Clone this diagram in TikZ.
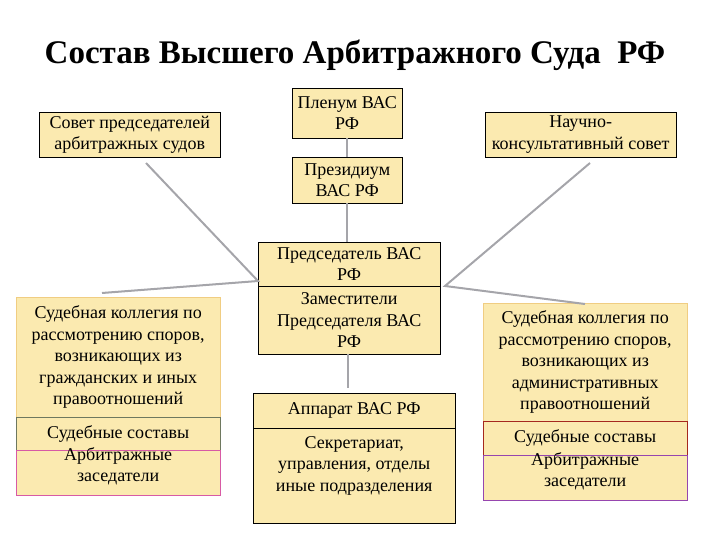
\documentclass[tikz,border=0pt]{standalone}
\usepackage{fontspec}
\setmainfont{Liberation Serif}

\definecolor{boxfill}{RGB}{251,234,176}
\definecolor{linkgray}{RGB}{165,165,170}
\definecolor{edgeorange}{RGB}{240,205,130}
\definecolor{edgeolive}{RGB}{110,120,95}
\definecolor{edgepink}{RGB}{215,90,165}
\definecolor{edgered}{RGB}{165,40,30}
\definecolor{edgepurple}{RGB}{150,70,175}

\tikzset{
  box/.style={draw=black, fill=boxfill, align=center, inner sep=0pt,
    anchor=north west, font=\fontsize{18}{21.5}\selectfont},
  sized/.style 2 args={minimum width=#1pt, minimum height=#2pt},
  lowtext/.style={text height=22pt},
  link/.style={draw=linkgray, line width=2pt}
}

\begin{document}
\begin{tikzpicture}[x=1pt,y=-1pt]
  \useasboundingbox (0,0) rectangle (720,540);

  % title
  \node[font=\fontsize{33}{40}\selectfont\bfseries] (title) at (355,55)
    {Состав Высшего Арбитражного Суда\ \ РФ};

  % top row
  \node[box, sized={181}{45}] (sovet) at (39,112)
    {Совет председателей\\арбитражных судов};
  \node[box, sized={110}{50}] (plenum) at (292,88) {Пленум ВАС\\РФ};
  \node[box, sized={110}{46}] (presid) at (292,157) {Президиум\\ВАС РФ};
  \node[box, sized={191}{45}] (nauch) at (485,112)
    {Научно-\\консультативный совет};

  % centre
  \node[box, sized={182}{44}] (chair) at (258,242) {Председатель ВАС\\РФ};
  \node[box, sized={182}{68}] (deputy) at (258,286)
    {Заместители\\Председателя ВАС\\РФ};
  \node[box, sized={202}{35}] (appar) at (253,393) {Аппарат ВАС РФ};
  \node[box, sized={202}{95}] (units) at (253,428)
    {Секретариат,\\управления, отделы\\иные подразделения\\[2pt]\mbox{}};

  % left collegium
  \node[box, draw=edgeorange, sized={204}{120}] (civil) at (16,297)
    {Судебная коллегия по\\рассмотрению споров,\\возникающих из\\гражданских и иных\\правоотношений};
  \node[box, draw=edgeolive, sized={204}{33}] (civilsost) at (16,417)
    {Судебные составы};
  \node[box, draw=edgepink, lowtext, sized={204}{45}] (civilzas) at (16,450)
    {Арбитражные\\заседатели};

  % right collegium
  \node[box, draw=edgeorange, sized={204}{118}] (admin) at (483,303)
    {Судебная коллегия по\\рассмотрению споров,\\возникающих из\\административных\\правоотношений};
  \node[box, draw=edgered, sized={204}{34}] (adminsost) at (483,421)
    {Судебные составы};
  \node[box, draw=edgepurple, lowtext, sized={204}{45}] (adminzas) at (483,455)
    {Арбитражные\\заседатели};

  % link ends
  \coordinate (hubleft) at (258,281);
  \coordinate (hubright) at (445,286);
  \coordinate (sovetend) at (146,163);
  \coordinate (civilend) at (102,293);
  \coordinate (nauchend) at (590,163);
  \coordinate (adminend) at (585,304);
  \coordinate (apparend) at (348,388);

  % links
  \draw[link] (plenum) -- (presid);
  \draw[link] (presid.south) -- (presid.south |- chair.north);
  \draw[link] (apparend |- deputy.south) -- (apparend);
  \draw[link] (sovetend) -- (hubleft) -- (civilend);
  \draw[link] (nauchend) -- (hubright) -- (adminend);
\end{tikzpicture}
\end{document}
